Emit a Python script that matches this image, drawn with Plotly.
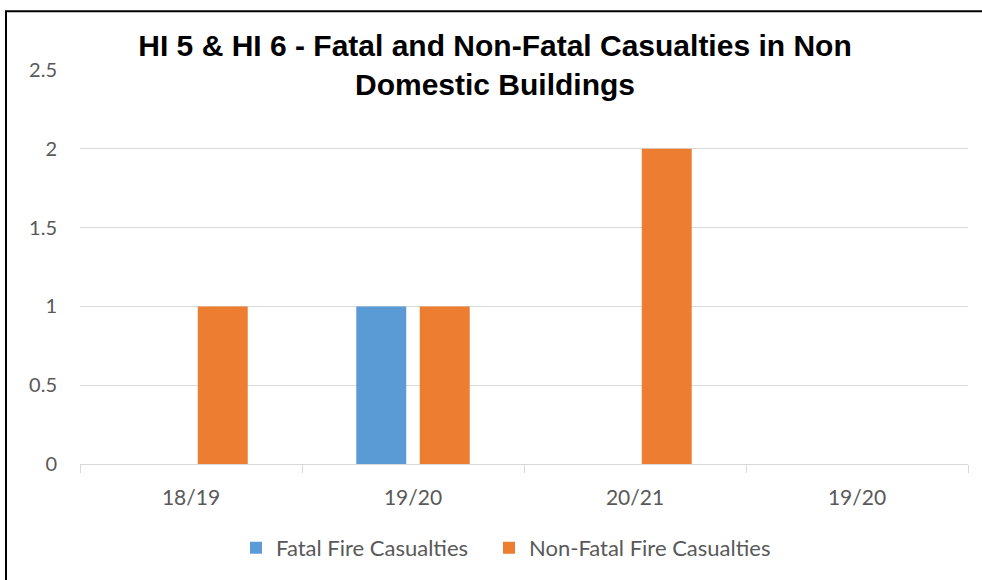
import plotly.graph_objects as go

categories = ["18/19", "19/20", "20/21", "19/20"]
fatal = [0, 1, 0, 0]
non_fatal = [1, 1, 2, 0]
series_names = ["Fatal Fire Casualties", "Non-Fatal Fire Casualties"]
title_text = "HI 5 & HI 6 - Fatal and Non-Fatal Casualties in Non<br>Domestic Buildings"
y_ticks = [0, 0.5, 1, 1.5, 2, 2.5]
y_tick_labels = ["0", "0.5", "1", "1.5", "2", "2.5"]

x_pos = list(range(len(categories)))

fig = go.Figure()
fig.add_trace(go.Bar(x=x_pos, y=fatal, name=series_names[0], legend="legend",
                     marker=dict(color="#5B9BD5", line=dict(width=0))))
fig.add_trace(go.Bar(x=x_pos, y=non_fatal, name=series_names[1], legend="legend2",
                     marker=dict(color="#ED7D31", line=dict(width=0))))

legend_style = dict(orientation="h", xanchor="left", y=-0.21, yanchor="middle",
                    font=dict(family="Lato, sans-serif", size=22, color="#595959"),
                    itemwidth=30, bgcolor="rgba(0,0,0,0)")

fig.update_layout(
    width=982, height=580,
    margin=dict(l=80, r=14, t=70, b=115),
    paper_bgcolor="white", plot_bgcolor="white",
    barmode="group", bargap=0.428, bargroupgap=0.213,
    title=dict(text="<b>" + title_text + "</b>", x=495 / 982, xanchor="center", xref="container",
               y=1 - 56 / 580, yanchor="middle",
               font=dict(family="Liberation Sans, Arial", size=30, color="black")),
    font=dict(family="Lato, Open Sans, sans-serif", size=21, color="#595959"),
    legend=dict(x=(236 - 80) / 888, **legend_style),
    legend2=dict(x=(489 - 80) / 888, **legend_style),
    showlegend=True,
    xaxis=dict(range=[-0.5, 3.5], tickmode="array", tickvals=x_pos, ticktext=categories,
               ticks="", showgrid=False, zeroline=False, showline=True, linecolor="#d9d9d9", linewidth=1,
               ticklabelstandoff=15,
               minor=dict(ticks="outside", tick0=-0.5, dtick=1, ticklen=8, tickcolor="#d9d9d9", showgrid=False)),
    yaxis=dict(range=[0, 2.5], tickmode="array", tickvals=y_ticks, ticktext=y_tick_labels,
               showgrid=True, gridcolor="#d9d9d9", gridwidth=1, zeroline=False, showline=False,
               ticks="", ticklabelstandoff=22, tickfont=dict(size=20)),
)

fig.add_shape(type="rect", xref="paper", yref="paper",
              x0=(6 - 80) / 888, x1=(995 - 80) / 888, y0=(465 - 595) / 395, y1=(465 - 11) / 395,
              line=dict(color="black", width=2), fillcolor="rgba(0,0,0,0)", layer="above")

fig.write_html("out.html", config={"displayModeBar": False},
               post_script="document.body.style.margin='0';document.body.style.overflow='hidden';")
